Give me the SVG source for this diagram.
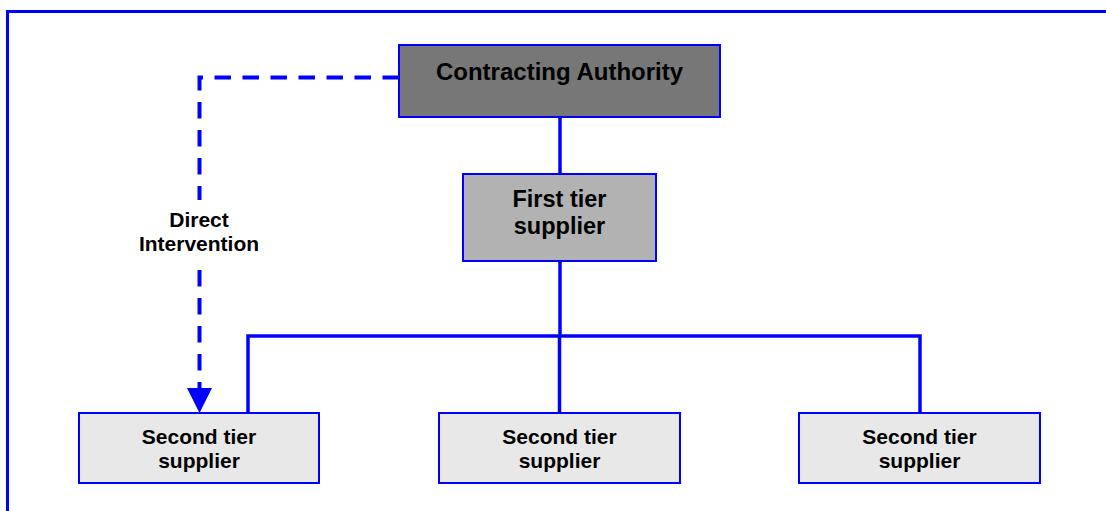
<svg xmlns="http://www.w3.org/2000/svg" width="1106" height="511" viewBox="0 0 1106 511">
  <style>
    .box { stroke: #0000ff; stroke-width: 2; }
    .lbl { font-family: "Liberation Sans", Arial, sans-serif; font-weight: bold; fill: #000; text-anchor: middle; }
    .solid { fill: none; stroke: #0000ff; stroke-width: 3.5; }
    .dash { fill: none; stroke: #0000ff; stroke-width: 4; stroke-dasharray: 16.5 11.5; }
  </style>
  <rect x="0" y="0" width="1106" height="511" fill="#ffffff"/>
  <path d="M7.5,511 V11.5 H1106" fill="none" stroke="#0000ff" stroke-width="3"/>

  <g id="connectors">
    <path class="solid" d="M560,117 V174"/>
    <path class="solid" d="M560,261 V336"/>
    <path class="solid" d="M248,413 V336 H920 V413"/>
    <path class="solid" d="M559.5,336 V413"/>
    <path class="dash" d="M399,77.5 H199.5 V388"/>
    <path d="M187,388 L212,388 L199.5,413 Z" fill="#0000ff"/>
  </g>

  <g id="direct-intervention-label">
    <rect x="134" y="200" width="130" height="59" fill="#ffffff"/>
    <text class="lbl" x="199" y="227" font-size="21">Direct</text>
    <text class="lbl" x="199" y="251" font-size="21">Intervention</text>
  </g>

  <g id="contracting-authority">
    <rect class="box" x="399" y="45" width="321" height="72" fill="#777777"/>
    <text class="lbl" x="559.5" y="80" font-size="24">Contracting Authority</text>
  </g>

  <g id="first-tier">
    <rect class="box" x="463" y="174" width="193" height="87" fill="#b2b2b2"/>
    <text class="lbl" x="559.5" y="207" font-size="23.5">First tier</text>
    <text class="lbl" x="559.5" y="234" font-size="23.5">supplier</text>
  </g>

  <g id="second-tier-1">
    <rect class="box" x="79" y="413" width="240" height="70" fill="#e8e8e8"/>
    <text class="lbl" x="199" y="444" font-size="21">Second tier</text>
    <text class="lbl" x="199" y="468" font-size="21">supplier</text>
  </g>

  <g id="second-tier-2">
    <rect class="box" x="439" y="413" width="241" height="70" fill="#e8e8e8"/>
    <text class="lbl" x="559.5" y="444" font-size="21">Second tier</text>
    <text class="lbl" x="559.5" y="468" font-size="21">supplier</text>
  </g>

  <g id="second-tier-3">
    <rect class="box" x="799" y="413" width="241" height="70" fill="#e8e8e8"/>
    <text class="lbl" x="919.5" y="444" font-size="21">Second tier</text>
    <text class="lbl" x="919.5" y="468" font-size="21">supplier</text>
  </g>
</svg>
